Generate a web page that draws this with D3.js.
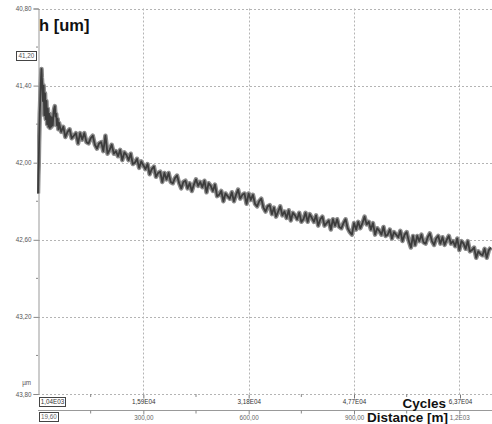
<!DOCTYPE html><html><head><meta charset="UTF-8"><script src="https://d3js.org/d3.v7.min.js"></script><style>
    body { margin: 0; background: #fff; }
    svg { display: block; font-family: "Liberation Sans", Arial, sans-serif; }
    .grid line { stroke: #b4b4b4; stroke-width: 1; stroke-dasharray: 2,2; }
    .tick-lbl { font-size: 6.3px; fill: #555; }
    .box rect { fill: #fff; stroke: #444; stroke-width: 1; }
</style></head><body><div id="chart"></div><script>
// start of the run, 1 m steps then 2 m steps (distance [m], h [um])
const startDist = [0, 1, 2, 3, 4, 5, 6, 7, 8, 9, 10, 11, 12, 14, 16, 18, 20, 22, 24, 26, 28, 30, 32, 34, 36, 38, 40, 42, 44, 46, 48, 50, 52, 54, 56, 58, 60];
const startH = [42.24, 42.10, 42.02, 41.86, 41.74, 41.62, 41.55, 41.45, 41.38, 41.32, 41.27, 41.34,
    41.38, 41.52, 41.40, 41.63, 41.46, 41.66, 41.52, 41.70, 41.58, 41.72, 41.62, 41.73, 41.64, 41.72,
    41.65, 41.71, 41.62, 41.58, 41.56, 41.64, 41.62, 41.71, 41.66, 41.74, 41.69];
// rest of the run, every 6 m from 66 m
const mainStart = 66, mainStep = 6;
const mainH = [
    41.76, 41.72, 41.80, 41.76, 41.74, 41.81, 41.79, 41.77, 41.85, 41.77,
    41.82, 41.77, 41.84, 41.85, 41.81, 41.79, 41.86, 41.89, 41.85, 41.84,
    41.91, 41.79, 41.93, 41.90, 41.86, 41.93, 41.91, 41.95, 41.90, 41.98,
    41.92, 41.94, 41.98, 41.93, 42.01, 42.00, 41.97, 42.04, 41.99, 42.02,
    42.05, 42.01, 42.09, 42.05, 42.03, 42.11, 42.08, 42.07, 42.15, 42.08,
    42.13, 42.08, 42.15, 42.16, 42.12, 42.10, 42.16, 42.20, 42.15, 42.14,
    42.20, 42.16, 42.22, 42.17, 42.13, 42.18, 42.15, 42.19, 42.14, 42.23,
    42.16, 42.18, 42.22, 42.17, 42.26, 42.25, 42.22, 42.30, 42.24, 42.26,
    42.28, 42.23, 42.30, 42.25, 42.21, 42.28, 42.25, 42.24, 42.32, 42.24,
    42.29, 42.25, 42.32, 42.34, 42.30, 42.28, 42.35, 42.38, 42.34, 42.33,
    42.40, 42.35, 42.42, 42.38, 42.34, 42.41, 42.38, 42.43, 42.37, 42.45,
    42.39, 42.41, 42.44, 42.39, 42.46, 42.44, 42.39, 42.46, 42.40, 42.43,
    42.46, 42.41, 42.49, 42.44, 42.42, 42.49, 42.47, 42.45, 42.52, 42.44,
    42.49, 42.44, 42.50, 42.51, 42.47, 42.44, 42.51, 42.54, 42.56, 42.47,
    42.52, 42.46, 42.51, 42.47, 42.42, 42.48, 42.46, 42.52, 42.47, 42.56,
    42.51, 42.53, 42.56, 42.50, 42.57, 42.56, 42.52, 42.59, 42.54, 42.56,
    42.58, 42.53, 42.61, 42.56, 42.54, 42.61, 42.66, 42.57, 42.64, 42.57,
    42.61, 42.56, 42.62, 42.63, 42.58, 42.55, 42.61, 42.64, 42.59, 42.57,
    42.63, 42.58, 42.64, 42.60, 42.57, 42.63, 42.61, 42.65, 42.59, 42.68,
    42.61, 42.63, 42.67, 42.61, 42.69, 42.68, 42.66, 42.74, 42.69, 42.71,
    42.72, 42.67, 42.74, 42.68, 42.66
];
const yTicks = [40.8, 41.4, 42.0, 42.6, 43.2, 43.8];
const yMinor = [41.1, 41.7, 42.3, 42.9, 43.5];
const distTicks = [300, 600, 900, 1200];
const distLabels = ["300,00", "600,00", "900,00", "1,2E03"];
const cycTicks = [15900, 31800, 47700, 63700];
const cycLabels = ["1,59E04", "3,18E04", "4,77E04", "6,37E04"];
const distMinor = [150, 450, 750, 1050];
const cursorH = "41,20", cursorCyc = "1,04E03", cursorDist = "19,60";

const W = 492, H = 424;
const pLeft = 38, pTop = 8.5, pBottom = 394, pRight = 492;
const distMax = 1293, cycPerM = 53;

const data = startDist.map((d, i) => [d, startH[i]])
    .concat(mainH.map((h, i) => [mainStart + i * mainStep, h]));

const svg = d3.select('#chart').append('svg').attr('width', W).attr('height', H);

const x = d3.scaleLinear().domain([0, distMax]).range([pLeft, pRight]);
const xc = d3.scaleLinear().domain([0, distMax * cycPerM]).range([pLeft, pRight]);
const y = d3.scaleLinear().domain([40.8, 43.8]).range([pTop, pBottom]);
const fmt = d3.formatLocale({decimal: ",", thousands: ".", grouping: [3], currency: ["", ""]}).format(".2f");

// grid
const grid = svg.append('g').attr('class', 'grid');
grid.selectAll('.h').data(yTicks).enter().append('line')
    .attr('x1', pLeft).attr('x2', pRight)
    .attr('y1', d => Math.round(y(d)) + 0.5).attr('y2', d => Math.round(y(d)) + 0.5);
grid.selectAll('.v').data(distTicks).enter().append('line')
    .attr('y1', pTop).attr('y2', pBottom)
    .attr('x1', d => Math.round(x(d)) + 0.5).attr('x2', d => Math.round(x(d)) + 0.5);

// y axis
const yAxis = svg.append('g').attr('transform', `translate(${pLeft + 0.5},0)`)
    .call(d3.axisLeft(y).tickValues(yTicks).tickFormat(fmt).tickSize(5).tickPadding(2));
yAxis.select('.domain').attr('stroke', '#999');
yAxis.selectAll('.tick line').attr('stroke', '#888');
yAxis.selectAll('.tick text').attr('class', 'tick-lbl');
svg.append('g').selectAll('line').data(yMinor).enter().append('line')
    .attr('x1', pLeft - 2).attr('x2', pLeft)
    .attr('y1', d => y(d)).attr('y2', d => y(d)).attr('stroke', '#888');

svg.append('text').attr('class', 'tick-lbl').attr('x', 31).attr('y', 385)
    .attr('text-anchor', 'end').text('µm');

// cycles axis (runs along the plot bottom)
const cAxis = svg.append('g').attr('transform', `translate(0,${pBottom + 0.5})`)
    .call(d3.axisBottom(xc).tickValues(cycTicks).tickFormat((d, i) => cycLabels[i]).tickSize(4).tickPadding(1.5));
cAxis.select('.domain').remove();
cAxis.selectAll('.tick line').attr('stroke', '#777');
cAxis.selectAll('.tick text').attr('class', 'tick-lbl').style('fill', '#333');
svg.append('g').selectAll('line').data(distMinor).enter().append('line')
    .attr('x1', d => x(d)).attr('x2', d => x(d))
    .attr('y1', pBottom).attr('y2', pBottom + 3).attr('stroke', '#888');

// distance axis
const dY = 410.5;
const dAxis = svg.append('g').attr('transform', `translate(0,${dY})`)
    .call(d3.axisBottom(x).tickValues(distTicks).tickFormat((d, i) => distLabels[i]).tickSize(4).tickPadding(1));
dAxis.select('.domain').attr('stroke', '#999').attr('d', `M${pLeft},0H${pRight}`);
dAxis.selectAll('.tick line').attr('stroke', '#888');
dAxis.selectAll('.tick text').attr('class', 'tick-lbl').style('fill', '#666');
svg.append('g').selectAll('line').data(distMinor).enter().append('line')
    .attr('x1', d => x(d)).attr('x2', d => x(d))
    .attr('y1', dY).attr('y2', dY + 3).attr('stroke', '#888');

// data line: soft grey halo under a dark trace, like the dense raw signal
svg.append('clipPath').attr('id', 'clip').append('rect')
    .attr('x', pLeft - 1).attr('y', pTop).attr('width', pRight - pLeft + 1).attr('height', pBottom - pTop);
const line = d3.line().x(d => x(d[0])).y(d => y(d[1]));
svg.append('path').datum(data)
    .attr('clip-path', 'url(#clip)')
    .attr('fill', 'none').attr('stroke', '#8c8c8c').attr('stroke-width', 4.5)
    .attr('stroke-linejoin', 'round').attr('d', line);
svg.append('path').datum(data)
    .attr('clip-path', 'url(#clip)')
    .attr('fill', 'none').attr('stroke', '#3c3c3c').attr('stroke-width', 1.8)
    .attr('stroke-linejoin', 'round').attr('d', line);

// cursor boxes
function box(bx, by, bw, bh, txt, col) {
    const g = svg.append('g').attr('class', 'box');
    g.append('rect').attr('x', bx + 0.5).attr('y', by + 0.5).attr('width', bw).attr('height', bh);
    g.append('text').attr('class', 'tick-lbl').attr('x', bx + bw / 2 + 0.5).attr('y', by + bh / 2 + 2.7)
        .attr('text-anchor', 'middle').style('fill', col).text(txt);
}
box(16, 51, 20, 9, cursorH, '#555');
box(39, 397, 26, 9, cursorCyc, '#333');
box(39, 412, 19, 9, cursorDist, '#666');

// titles
svg.append('text').attr('x', 39).attr('y', 31).attr('font-size', 16.5).attr('font-weight', 'bold')
    .attr('fill', '#111').text('h [um]');
svg.append('text').attr('x', 446).attr('y', 407.5).attr('font-size', 13.5).attr('font-weight', 'bold')
    .attr('text-anchor', 'end').attr('fill', '#111').text('Cycles');
svg.append('text').attr('x', 448).attr('y', 421.5).attr('font-size', 13.5).attr('font-weight', 'bold')
    .attr('text-anchor', 'end').attr('fill', '#111').text('Distance [m]');
</script></body></html>
